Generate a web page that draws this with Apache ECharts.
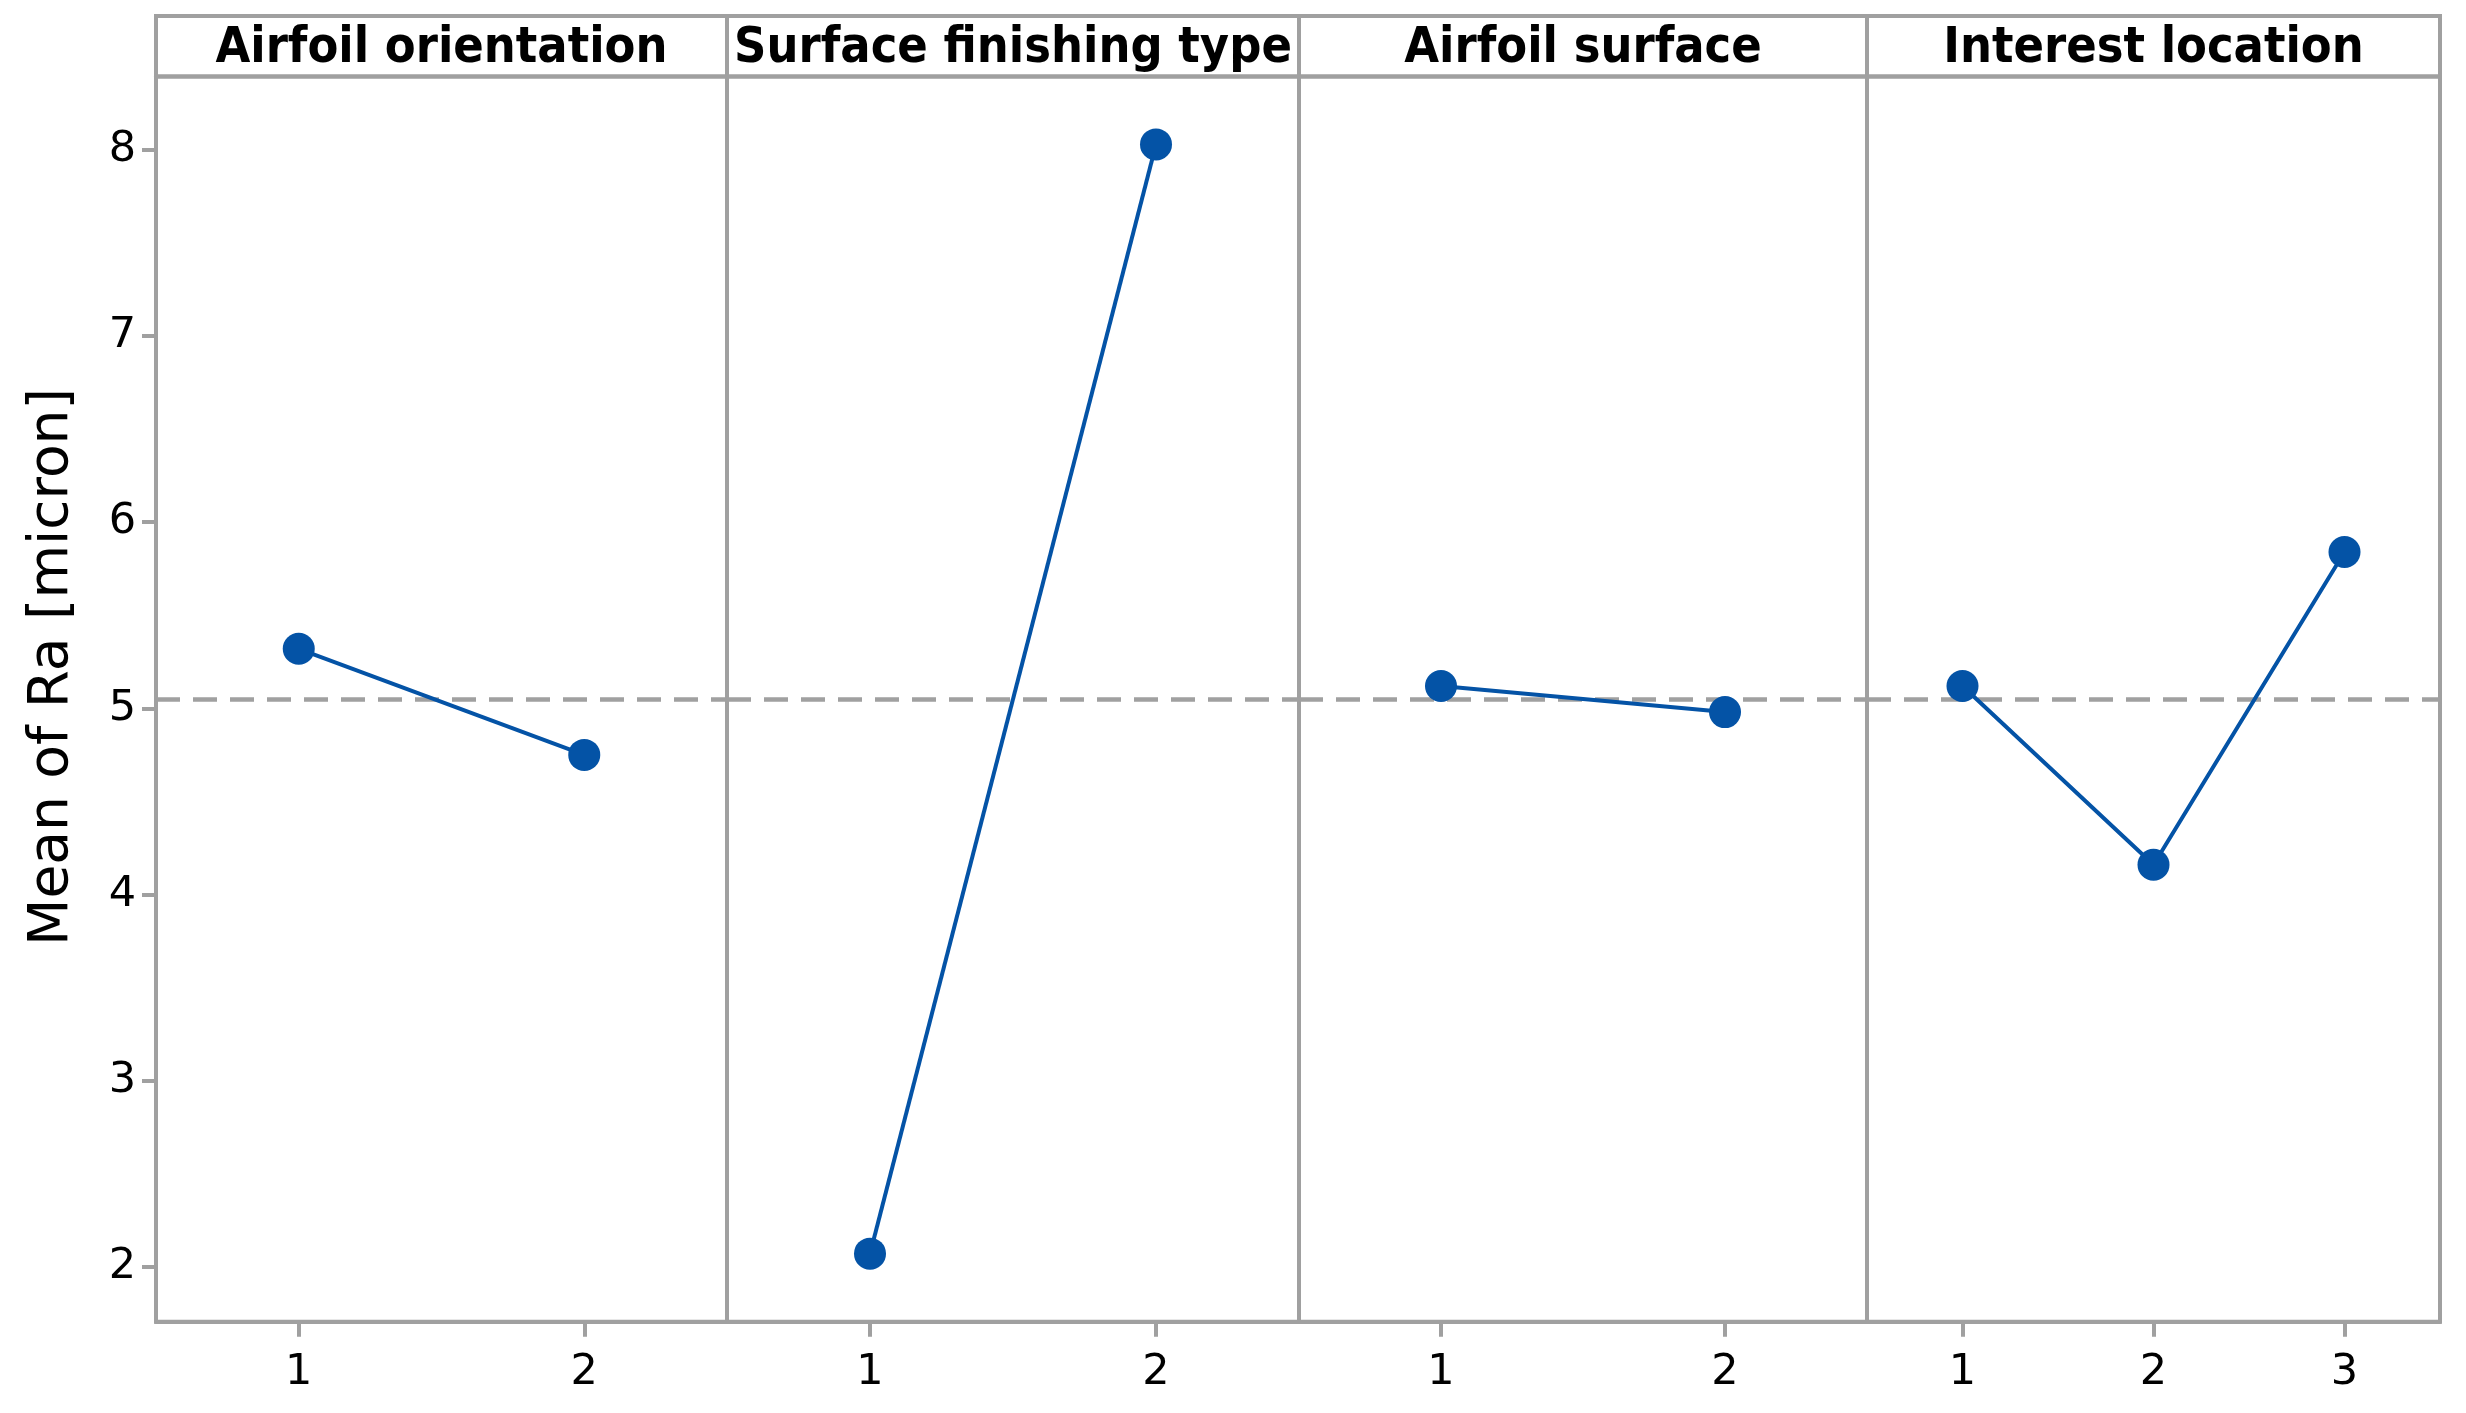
<!DOCTYPE html>
<html><head><meta charset="utf-8">
<script src="https://cdn.jsdelivr.net/npm/echarts@6/dist/echarts.min.js"></script>
<style>html,body{margin:0;padding:0;background:#fff}#c{width:2466px;height:1413px}</style>
</head><body><div id="c"></div>
<script>
// ---- data ----
const factorNames = ['Airfoil orientation', 'Surface finishing type', 'Airfoil surface', 'Interest location'];
const levelsOrientation = ['1', '2'];
const levelsFinishing = ['1', '2'];
const levelsSurface = ['1', '2'];
const levelsLocation = ['1', '2', '3'];
const meansOrientation = [5.32, 4.75];
const meansFinishing = [2.07, 8.03];
const meansSurface = [5.12, 4.98];
const meansLocation = [5.12, 4.16, 5.84];
const grandMean = 5.05;
const yTickValues = [2, 3, 4, 5, 6, 7, 8];
const yTitle = 'Mean of Ra [micron]';

// ---- layout ----
const panelLeft = [156, 727, 1299, 1867];
const panelWidth = [571, 572, 568, 573];
const headerTop = 16, gridTop = 76.5, gridBottomY = 1321.7;
const yMin = 1.7045, yMax = 8.395;
const GREY = '#a0a0a0', BLUE = '#0453a6';
const FONT = 'DejaVu Sans';

const levels = [levelsOrientation, levelsFinishing, levelsSurface, levelsLocation];
const means = [meansOrientation, meansFinishing, meansSurface, meansLocation];

const grids = [], xAxes = [], yAxes = [], series = [], graphics = [];
for (let i = 0; i < 4; i++) {
  grids.push({left: panelLeft[i], top: gridTop, width: panelWidth[i], height: gridBottomY - gridTop,
    show: true, borderColor: GREY, borderWidth: 4, backgroundColor: 'transparent', containLabel: false});
  xAxes.push({type: 'category', gridIndex: i, data: levels[i], boundaryGap: true,
    axisLine: {show: true, lineStyle: {color: GREY, width: 4}},
    axisTick: {show: true, alignWithLabel: true, length: 15, lineStyle: {color: GREY, width: 4}},
    axisLabel: {show: true, color: '#000', fontSize: 43, fontFamily: FONT, margin: 30},
    splitLine: {show: false}});
  const first = i === 0;
  yAxes.push({type: 'value', gridIndex: i, min: yMin, max: yMax,
    name: first ? yTitle : '', nameLocation: 'middle', nameRotate: 90, nameGap: 76,
    nameTextStyle: {color: '#000', fontSize: 55, fontFamily: FONT, padding: [0, 0, 0, 64]},
    axisLine: {show: first, lineStyle: {color: GREY, width: 4}},
    axisTick: {show: first, length: 14, customValues: yTickValues, lineStyle: {color: GREY, width: 4}},
    axisLabel: {show: first, customValues: yTickValues, color: '#000', fontSize: 43, fontFamily: FONT, margin: 20},
    splitLine: {show: false}});
  series.push({type: 'line', xAxisIndex: i, yAxisIndex: i, data: means[i], z: 3,
    symbol: 'circle', symbolSize: 32, showSymbol: true,
    lineStyle: {color: BLUE, width: 4}, itemStyle: {color: BLUE},
    markLine: {silent: true, symbol: 'none', z: 1, animation: false,
      label: {show: false},
      lineStyle: {color: GREY, width: 4.5, type: [24, 13]},
      emphasis: {disabled: true},
      data: [{yAxis: grandMean}]}});
  graphics.push({type: 'rect', shape: {x: panelLeft[i], y: headerTop, width: panelWidth[i], height: gridTop - headerTop},
    style: {fill: 'none', stroke: GREY, lineWidth: 4}, z: 10});
  graphics.push({type: 'text', x: panelLeft[i] + panelWidth[i] / 2, y: 49, z: 11,
    style: {text: factorNames[i], textAlign: 'center', textVerticalAlign: 'middle',
      fontSize: 50, fontWeight: 'bold', fontFamily: '"DejaVu Sans Condensed", "DejaVu Sans"', fill: '#000'}});
}

const chart = echarts.init(document.getElementById('c'), null, {renderer: 'canvas'});
chart.setOption({
  animation: false,
  backgroundColor: '#fff',
  grid: grids, xAxis: xAxes, yAxis: yAxes, series: series, graphic: graphics
});
</script></body></html>
